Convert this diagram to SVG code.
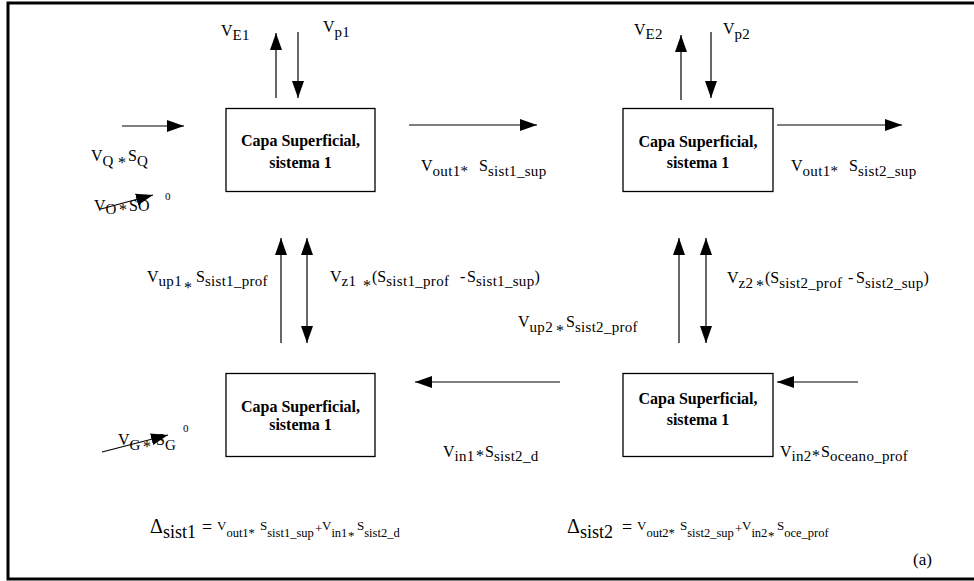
<svg xmlns="http://www.w3.org/2000/svg" width="974" height="581" viewBox="0 0 974 581" font-family="'Liberation Serif', 'Times New Roman', serif">
  <style>
    text { font-family: 'Liberation Serif', 'Times New Roman', serif; fill: #000; }
    .box { fill: #fff; stroke: #000; stroke-width: 1.3; }
    .cap { font-size: 16px; font-weight: bold; text-anchor: middle; }
    .lbl { font-size: 16px; }
    .s { font-size: 15px; letter-spacing: 0.3px; }
    .sm { font-size: 13px; }
    .ss { font-size: 12.5px; }
    .sup { font-size: 11px; }
    .flow { stroke: #000; stroke-width: 1.2; fill: none; marker-end: url(#ah); }
    .both { marker-start: url(#ah); }
  </style>
  <defs>
    <marker id="ah" markerUnits="userSpaceOnUse" markerWidth="18" markerHeight="12" refX="17" refY="6" orient="auto-start-reverse">
      <path d="M0,0 L17,6 L0,12 z" fill="#000"/>
    </marker>
  </defs>

  <!-- outer frame (open on the right edge) -->
  <rect id="frame" x="8" y="3" width="980" height="576" fill="#fff" stroke="#000" stroke-width="3"/>

  <!-- compartments -->
  <g id="sist1-sup">
    <rect class="box" x="226" y="108.5" width="149" height="83"/>
    <text class="cap" x="300.5" y="146">Capa Superficial,</text>
    <text class="cap" x="300.5" y="168">sistema 1</text>
  </g>
  <g id="sist2-sup">
    <rect class="box" x="623" y="108.5" width="150" height="83"/>
    <text class="cap" x="698" y="147">Capa Superficial,</text>
    <text class="cap" x="698" y="168">sistema 1</text>
  </g>
  <g id="sist1-prof">
    <rect class="box" x="226" y="373.5" width="149" height="83"/>
    <text class="cap" x="300.5" y="412">Capa Superficial,</text>
    <text class="cap" x="300.5" y="430">sistema 1</text>
  </g>
  <g id="sist2-prof">
    <rect class="box" x="623" y="373.5" width="150" height="83"/>
    <text class="cap" x="698" y="404">Capa Superficial,</text>
    <text class="cap" x="698" y="425">sistema 1</text>
  </g>

  <!-- fluxes -->
  <g id="connectors">
    <line class="flow" x1="276" y1="98" x2="276" y2="33"/>
    <line class="flow" x1="298" y1="32" x2="298" y2="98"/>
    <line class="flow" x1="681" y1="100" x2="681" y2="35"/>
    <line class="flow" x1="711" y1="32" x2="711" y2="98"/>
    <line class="flow" x1="122" y1="126" x2="184" y2="126"/>
    <line class="flow" x1="409" y1="125" x2="537" y2="125"/>
    <line class="flow" x1="777" y1="125" x2="902" y2="125"/>
    <line class="flow" x1="281" y1="343" x2="281" y2="238"/>
    <line class="flow both" x1="307" y1="343" x2="307" y2="238"/>
    <line class="flow" x1="679" y1="343" x2="679" y2="238"/>
    <line class="flow both" x1="706" y1="343" x2="706" y2="238"/>
    <line class="flow" x1="560" y1="382" x2="415" y2="382"/>
    <line class="flow" x1="858" y1="382" x2="777" y2="382"/>
    <line class="flow" x1="101" y1="209" x2="153" y2="195"/>
    <line class="flow" x1="102" y1="452" x2="168" y2="435"/>
  </g>

  <!-- flux labels -->
  <g id="labels">
    <text class="lbl" x="221" y="36">V<tspan class="s" dy="4">E1</tspan></text>
    <text class="lbl" x="323" y="32">V<tspan class="s" dy="5">p1</tspan></text>
    <text class="lbl" x="634" y="35">V<tspan class="s" dy="4">E2</tspan></text>
    <text class="lbl" x="723" y="34">V<tspan class="s" dy="5">p2</tspan></text>

    <text class="lbl" x="91" y="161">V<tspan class="s" dy="5">Q</tspan><tspan x="118" y="168">*</tspan><tspan x="128" y="161">S</tspan><tspan class="s" dy="5">Q</tspan></text>
    <text class="lbl" x="94" y="211">V<tspan class="s" dy="3">O</tspan><tspan x="119" y="215">*</tspan><tspan x="129" y="211">SO</tspan></text>
    <text class="sup" x="165" y="200">0</text>

    <text class="lbl" x="421" y="171">V<tspan class="s" dy="5">out1*</tspan><tspan x="479" dy="-5">S</tspan><tspan class="s" dy="5">sist1_sup</tspan></text>
    <text class="lbl" x="791" y="171">V<tspan class="s" dy="5">out1*</tspan><tspan x="849" dy="-5">S</tspan><tspan class="s" dy="5">sist2_sup</tspan></text>

    <text class="lbl" x="147" y="282">V<tspan class="s" dy="4">up1</tspan><tspan x="184" y="293">*</tspan><tspan x="196" y="282">S</tspan><tspan class="s" dy="4">sist1_prof</tspan></text>
    <text class="lbl" x="330" y="282">V<tspan class="s" dy="4">z1</tspan><tspan x="363" y="291">*</tspan><tspan x="372" y="282">(S</tspan><tspan class="s" dy="4">sist1_prof</tspan><tspan x="460" y="282">-</tspan><tspan x="467">S</tspan><tspan class="s" dy="4">sist1_sup</tspan><tspan y="282">)</tspan></text>
    <text class="lbl" x="518" y="327">V<tspan class="s" dy="5">up2</tspan><tspan x="556" y="336">*</tspan><tspan x="566" y="327">S</tspan><tspan class="s" dy="5">sist2_prof</tspan></text>
    <text class="lbl" x="727" y="283">V<tspan class="s" dy="5">z2</tspan><tspan x="756" y="291">*</tspan><tspan x="765" y="283">(S</tspan><tspan class="s" dy="5">sist2_prof</tspan><tspan x="848" y="283">-</tspan><tspan x="856">S</tspan><tspan class="s" dy="5">sist2_sup</tspan><tspan y="283">)</tspan></text>

    <text class="lbl" x="118" y="445">V<tspan class="s" dy="5">G</tspan><tspan x="143" y="452">*</tspan><tspan x="156" y="445">S</tspan><tspan class="s" dy="5">G</tspan></text>
    <text class="sup" x="183" y="432">0</text>

    <text class="lbl" x="443" y="457">V<tspan class="s" dy="4">in1</tspan><tspan x="476" y="461">*</tspan><tspan x="485" y="457">S</tspan><tspan class="s" dy="4">sist2_d</tspan></text>
    <text class="lbl" x="780" y="457">V<tspan class="s" dy="4">in2</tspan><tspan x="812" y="461">*</tspan><tspan x="821" y="457">S</tspan><tspan class="s" dy="4">oceano_prof</tspan></text>
  </g>

  <!-- balance equations -->
  <g id="balances">
    <text x="150" y="533"><tspan font-size="20">Δ</tspan><tspan font-size="18" dy="5">sist1</tspan><tspan x="202" font-size="18" dy="-5">=</tspan><tspan class="sm" x="217" dy="-3">V</tspan><tspan class="ss" dy="7">out1*</tspan><tspan class="sm" x="260" dy="-7">S</tspan><tspan class="ss" dy="7">sist1_sup</tspan><tspan class="sm" x="315" y="533">+</tspan><tspan class="sm" x="322" y="530">V</tspan><tspan class="ss" dy="7">in1</tspan><tspan class="sm" x="348" y="540">*</tspan><tspan class="sm" x="357" y="530">S</tspan><tspan class="ss" dy="7">sist2_d</tspan></text>
    <text x="567" y="533"><tspan font-size="20">Δ</tspan><tspan font-size="18" dy="5">sist2</tspan><tspan x="622" font-size="18" dy="-5">=</tspan><tspan class="sm" x="637" dy="-3">V</tspan><tspan class="ss" dy="7">out2*</tspan><tspan class="sm" x="680" dy="-7">S</tspan><tspan class="ss" dy="7">sist2_sup</tspan><tspan class="sm" x="735" y="533">+</tspan><tspan class="sm" x="742" y="530">V</tspan><tspan class="ss" dy="7">in2</tspan><tspan class="sm" x="768" y="540">*</tspan><tspan class="sm" x="777" y="530">S</tspan><tspan class="ss" dy="7">oce_prof</tspan></text>
    <text x="913" y="565" font-size="17">(a)</text>
  </g>
</svg>
